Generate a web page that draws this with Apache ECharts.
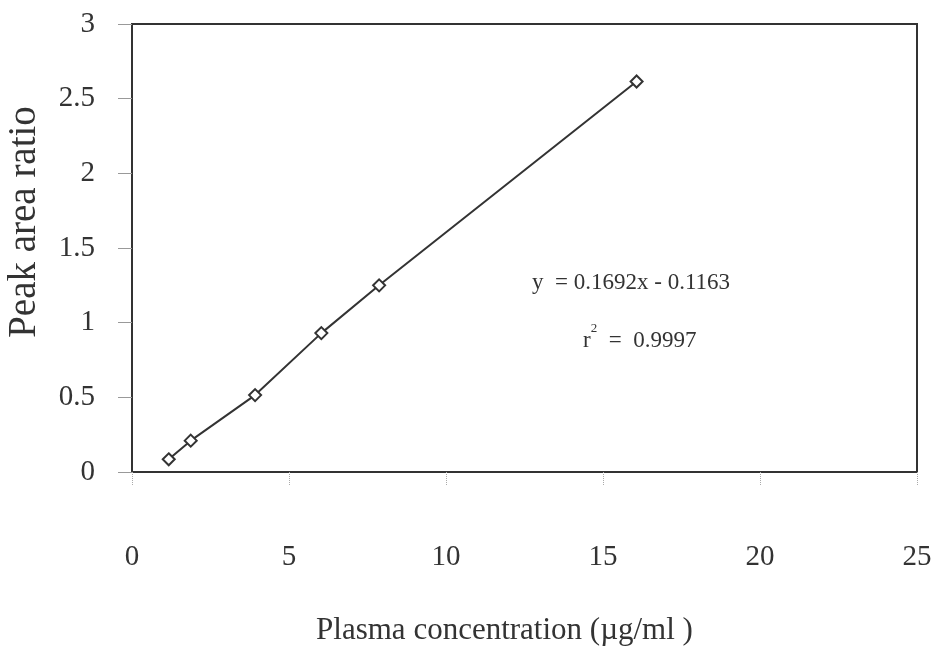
<!DOCTYPE html>
<html>
<head>
    <meta charset="utf-8">
    <title>Calibration curve</title>
    <script src="https://cdn.jsdelivr.net/npm/echarts@6/dist/echarts.min.js"></script>
    <style>
        body { margin: 0; background: #fff; }
    </style>
</head>
<body>
    <div id="main" style="width: 937px;height:646px;"></div>
    <script type="text/javascript">
        // data
        var concentration = [1.17, 1.87, 3.92, 6.03, 7.87, 16.07];
        var peakRatio = [0.085, 0.21, 0.515, 0.93, 1.25, 2.615];
        var xTicks = [0, 5, 10, 15, 20, 25];
        var yTicks = [0, 0.5, 1, 1.5, 2, 2.5, 3];
        var equationText = 'y  = 0.1692x - 0.1163';
        var r2Value = '0.9997';

        var myChart = echarts.init(document.getElementById('main'));
        var serif = 'Liberation Serif';

        var points = concentration.map(function (x, i) { return [x, peakRatio[i]]; });

        var option = {
            backgroundColor: '#fff',
            animation: false,
            grid: {
                left: 132,
                right: 20,
                top: 24,
                bottom: 174,
                outerBoundsMode: 'none',
                containLabel: false,
                show: true,
                borderColor: '#333',
                borderWidth: 2
            },
            xAxis: {
                type: 'value',
                min: xTicks[0],
                max: xTicks[xTicks.length - 1],
                interval: 5,
                name: 'Plasma concentration (\u00b5g/ml )',
                nameLocation: 'middle',
                nameGap: 143,
                nameTextStyle: { fontFamily: serif, fontSize: 31, color: '#333', padding: [0, 40, 0, 0] },
                axisLine: { show: true, lineStyle: { color: '#333', width: 2 } },
                axisTick: { show: true, inside: false, length: 13, lineStyle: { color: '#aaa', type: 'dotted', width: 1 } },
                axisLabel: { margin: 71, fontFamily: serif, fontSize: 29, color: '#333' },
                splitLine: { show: false }
            },
            yAxis: {
                type: 'value',
                min: yTicks[0],
                max: yTicks[yTicks.length - 1],
                interval: 0.5,
                name: 'Peak area ratio',
                nameLocation: 'middle',
                nameGap: 88,
                nameTextStyle: { fontFamily: serif, fontSize: 39, color: '#333', padding: [0, 0, 0, 52] },
                axisLine: { show: true, lineStyle: { color: '#333', width: 2 } },
                axisTick: { show: true, inside: false, length: 14, lineStyle: { color: '#999', width: 1 } },
                axisLabel: { margin: 37, fontFamily: serif, fontSize: 29, color: '#333' },
                splitLine: { show: false }
            },
            series: [{
                type: 'line',
                data: points,
                symbol: 'diamond',
                symbolSize: 12,
                itemStyle: { color: '#fff', borderColor: '#333', borderWidth: 2 },
                lineStyle: { color: '#333', width: 2 }
            }],
            graphic: [
                {
                    type: 'text',
                    left: 532,
                    top: 271,
                    style: { text: equationText, font: '23px "Liberation Serif"', fill: '#333' }
                },
                {
                    type: 'text',
                    left: 583,
                    top: 322,
                    style: {
                        text: '{b|r}{s|2}{b|  =  ' + r2Value + '}',
                        fill: '#333',
                        rich: {
                            b: { fontFamily: serif, fontSize: 23, color: '#333', verticalAlign: 'bottom', lineHeight: 30 },
                            s: { fontFamily: serif, fontSize: 13, color: '#333', verticalAlign: 'top', lineHeight: 30, padding: [0, 0, 14, 0] }
                        }
                    }
                }
            ]
        };

        myChart.setOption(option);
    </script>
</body>
</html>
